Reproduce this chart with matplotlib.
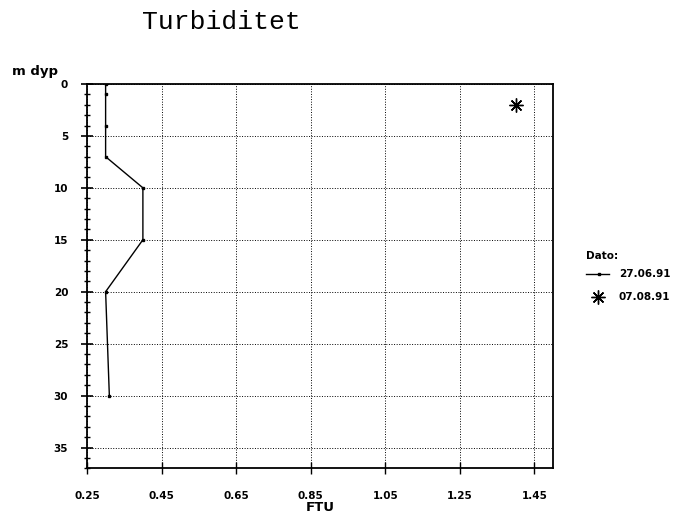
import numpy as np
import matplotlib
matplotlib.use("Agg")
import matplotlib.pyplot as plt
from matplotlib.lines import Line2D
from matplotlib.ticker import MultipleLocator

# data
dyp_1 = [0, 1, 4, 7, 10, 15, 20, 30]
ftu_1 = [0.30, 0.30, 0.30, 0.30, 0.40, 0.40, 0.30, 0.31]
dyp_2 = [2]
ftu_2 = [1.40]
x_ticks = [0.25, 0.45, 0.65, 0.85, 1.05, 1.25, 1.45]
y_ticks = [0, 5, 10, 15, 20, 25, 30, 35]
datoer = ["27.06.91", "07.08.91"]

plt.rcParams['font.family'] = ['DejaVu Sans']

fig = plt.figure(figsize=(6.87, 5.19), dpi=100)
ax = fig.add_axes([0.1266, 0.0977, 0.6783, 0.7405])

stjerne = (8, 2, 0)
ax.plot(ftu_1, dyp_1, color='black', lw=1.0, marker='s', ms=2)
ax.plot(ftu_2, dyp_2, ls='none', color='black', marker=stjerne, ms=10, mew=1.0)

ax.set_xlim(0.25, 1.5)
ax.set_ylim(37, 0)
ax.set_xticks(x_ticks)
ax.set_xticklabels([f"{v:.2f}" for v in x_ticks], fontweight='bold', fontsize=7.5)
ax.set_yticks(y_ticks)
ax.set_yticklabels([str(v) for v in y_ticks], fontweight='bold', fontsize=7.5)
ax.yaxis.set_minor_locator(MultipleLocator(1))
ax.tick_params(axis='y', which='major', direction='inout', length=9, width=1.2, pad=9)
ax.tick_params(axis='y', which='minor', direction='inout', length=5, width=1.0)
ax.tick_params(axis='x', which='major', direction='inout', length=8, width=1.0, pad=12)
ax.grid(True, which='major', ls=':', color='black', lw=0.7)
for s in ax.spines.values():
    s.set_linewidth(1.3)

ax.set_xlabel("FTU", fontweight='bold', fontsize=9.5, labelpad=0)
fig.text(0.018, 0.855, "m dyp", fontweight='bold', fontsize=9.5)
fig.text(0.322, 0.957, "Turbiditet", family='Liberation Mono', fontsize=19,
         ha='center', va='center')

# legend
fig.text(0.853, 0.507, "Dato:", fontweight='bold', fontsize=7.5, va='center')
fig.add_artist(Line2D([0.853, 0.886], [0.472, 0.472], color='black', lw=1.0,
                      transform=fig.transFigure))
fig.add_artist(Line2D([0.872], [0.472], color='black', marker='s', ms=2,
                      transform=fig.transFigure))
fig.add_artist(Line2D([0.870], [0.428], color='black', marker=stjerne, ms=10,
                      mew=1.0, ls='none', transform=fig.transFigure))
fig.text(0.901, 0.472, datoer[0], fontweight='bold', fontsize=7.5, va='center')
fig.text(0.901, 0.428, datoer[1], fontweight='bold', fontsize=7.5, va='center')

fig.savefig("out.png", dpi=100)
